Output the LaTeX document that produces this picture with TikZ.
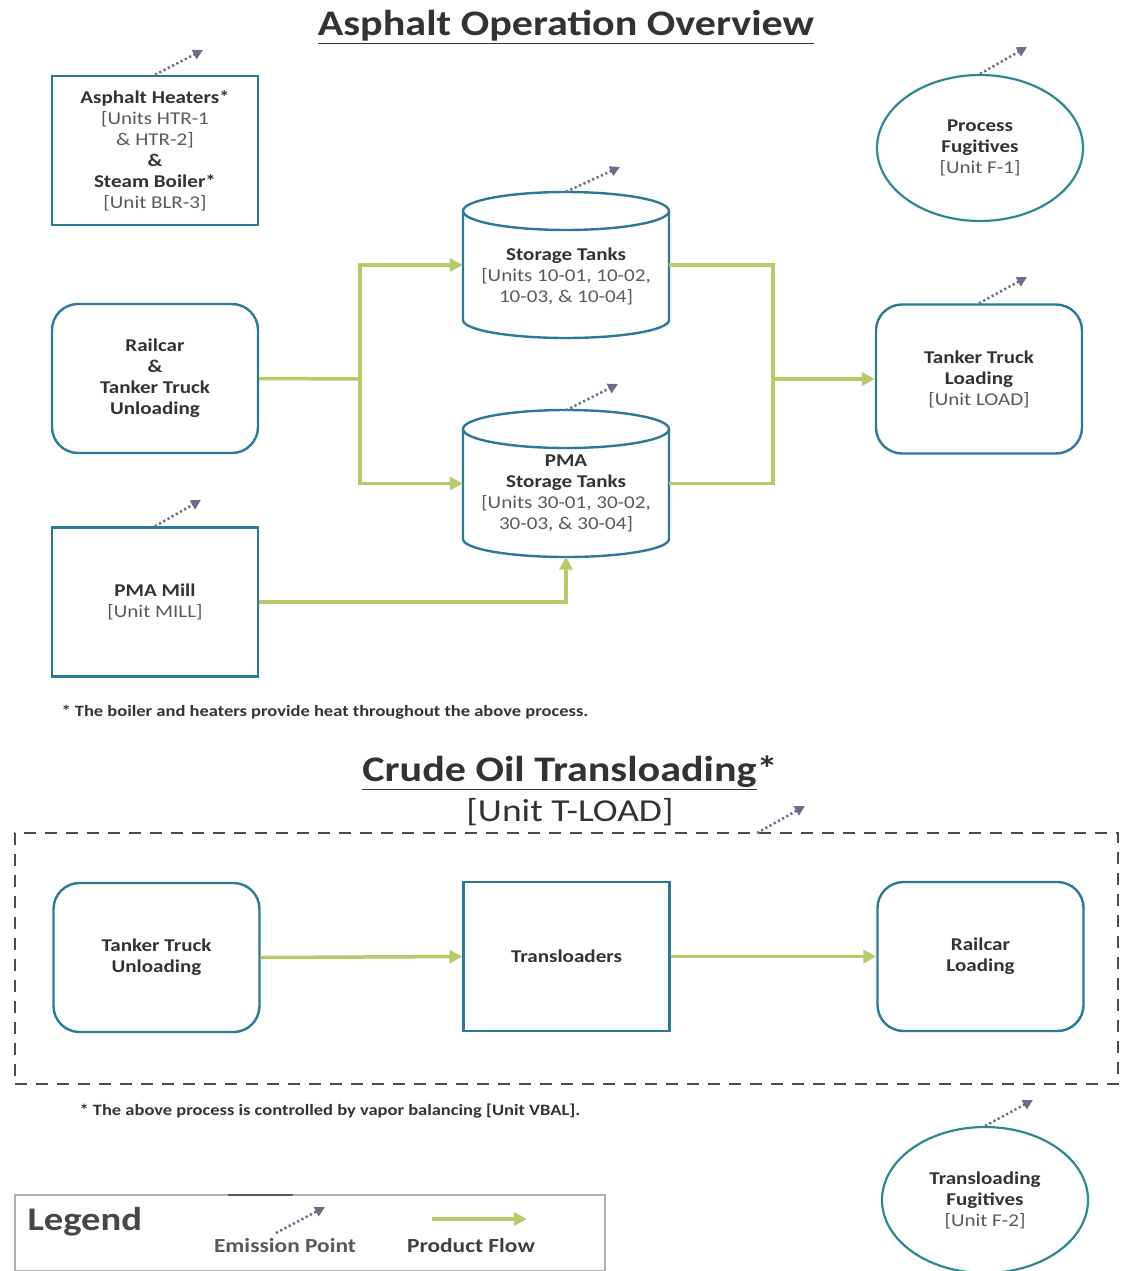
\documentclass[tikz,border=0pt]{standalone}
\usepackage{fontspec}
\setmainfont{Carlito}[FakeStretch=1.17]
\usetikzlibrary{shapes.geometric,arrows.meta}
\definecolor{bcol}{HTML}{2C7A96}
\definecolor{ecolr}{HTML}{2E8A8E}
\definecolor{gcol}{HTML}{B6CC68}
\definecolor{emcol}{HTML}{6A6E88}
\definecolor{txtc}{HTML}{333333}
\definecolor{subc}{HTML}{5A5A5A}
\begin{document}
\begin{tikzpicture}[x=1pt,y=-1pt,
  boxtxt/.style={font=\fontsize{18}{21}\selectfont, align=center, text=txtc},
  sqbox/.style={draw=bcol, line width=2.4pt, minimum width=206pt, minimum height=149pt, inner sep=0pt, boxtxt},
  rbox/.style={sqbox, rounded corners=26pt},
  ellbox/.style={ellipse, draw=ecolr, line width=2.2pt, minimum width=206pt, minimum height=146pt, inner sep=0pt, boxtxt},
  cylbody/.style={minimum width=206pt, minimum height=146pt, inner sep=0pt},
  cylline/.style={draw=bcol, line width=2.4pt},
  flow/.style={draw=gcol, line width=3.5pt},
  flowarr/.style={flow, -{Triangle[length=13pt,width=13pt]}},
  emis/.style={draw=emcol, line width=2.5pt, dash pattern=on 2.2pt off 2.6pt, -{Triangle[length=10pt,width=10pt]}},
  titletxt/.style={font=\fontsize{36}{40}\selectfont\bfseries, text=txtc},
  notetxt/.style={font=\fontsize{15.8}{18}\selectfont\bfseries, text=txtc, anchor=west},
  sub/.style={text=subc}
]
\useasboundingbox (0,0) rectangle (1120,1271);
\fill[white] (0,0) rectangle (1120,1271);

% ---------- titles ----------
\node[titletxt] (t1) at (566,27) {\underline{Asphalt Operation Overview}};
\node[titletxt] (t2) at (570,773) {\underline{Crude Oil Transloading}*};
\node[font=\fontsize{32}{36}\selectfont, text=txtc] (t3) at (570,812) {[Unit T-LOAD]};

% ---------- upper section nodes ----------
\node[sqbox] (ah) at (155,150.5) {\textbf{Asphalt Heaters*}\\ {\color{subc}[Units HTR-1}\\ {\color{subc}\& HTR-2]}\\ \textbf{\&}\\ \textbf{Steam Boiler*}\\ {\color{subc}[Unit BLR-3]}};
\node[ellbox] (pf) at (980,148) {\textbf{Process}\\ \textbf{Fugitives}\\ {\color{subc}[Unit F-1]}};
\node[rbox] (rr) at (155,378.5) {\textbf{Railcar}\\ \textbf{\&}\\ \textbf{Tanker Truck}\\ \textbf{Unloading}};
\node[sqbox] (mill) at (155,602) {\textbf{PMA Mill}\\ {\color{subc}[Unit MILL]}};
\node[rbox] (ttl) at (979,379) {\textbf{Tanker Truck}\\ \textbf{Loading}\\ {\color{subc}[Unit LOAD]}};

% storage tank cylinder
\node[cylbody, label={[boxtxt, yshift=-11pt]center:{\textbf{Storage Tanks}\\ {\color{subc}[Units 10-01, 10-02,}\\ {\color{subc}10-03, \& 10-04]}}}] (st) at (566,265) {};
\draw[cylline] (566,211) ellipse [x radius=103pt, y radius=19pt];
\draw[cylline] (463,211) -- (463,320) arc[start angle=180, end angle=360, x radius=103pt, y radius=18pt] -- (669,211);

% PMA storage tank cylinder
\node[cylbody, label={[boxtxt, yshift=-10pt]center:{\textbf{PMA}\\ \textbf{Storage Tanks}\\ {\color{subc}[Units 30-01, 30-02,}\\ {\color{subc}30-03, \& 30-04]}}}] (pma) at (566,483.5) {};
\draw[cylline] (566,429) ellipse [x radius=103pt, y radius=19pt];
\draw[cylline] (463,429) -- (463,539) arc[start angle=180, end angle=360, x radius=103pt, y radius=18pt] -- (669,429);

% ---------- upper flows ----------
\coordinate (j1) at (360,379);
\coordinate (j2) at (773,379);
\draw[flow] (rr.east) -- (j1);
\draw[flowarr] (j1) |- (st.west);
\draw[flowarr] (j1) |- (pma.west);
\draw[flow] (st.east) -| (j2);
\draw[flow] (pma.east) -| (j2);
\draw[flowarr] (j2) -- (ttl.west);
\draw[flowarr] (mill.east) -| (pma.south);

% ---------- emission points (upper) ----------
\coordinate (e1) at (203,50);
\coordinate (e2) at (1027,47);
\coordinate (e3) at (620,167);
\coordinate (e4) at (618,384);
\coordinate (e5) at (1027,277);
\coordinate (e6) at (201,500);
\draw[emis] (ah.north) -- (e1);
\draw[emis] (pf.north) -- (e2);
\draw[emis] (st.north) -- (e3);
\draw[emis] (pma.north) -- (e4);
\draw[emis] (ttl.north) -- (e5);
\draw[emis] (mill.north) -- (e6);

\node[notetxt] (n1) at (58,712) {* The boiler and heaters provide heat throughout the above process.};

% ---------- crude oil transloading ----------
\node[draw=black!70, line width=2pt, dash pattern=on 12pt off 9pt, minimum width=1103pt, minimum height=251pt, inner sep=0pt] (dbox) at (566.5,958) {};
\node[rbox] (ttu) at (156.5,957.5) {\textbf{Tanker Truck}\\ \textbf{Unloading}};
\node[sqbox] (tl) at (566.5,956.5) {\textbf{Transloaders}};
\node[rbox] (rl) at (980.5,956.5) {\textbf{Railcar}\\ \textbf{Loading}};
\draw[flowarr] (ttu.east) -- (tl.west);
\draw[flowarr] (tl.east) -- (rl.west);

\coordinate (e7s) at (757,833);
\coordinate (e7) at (805,806);
\draw[emis] (e7s) -- (e7);

\node[notetxt] (n2) at (76,1111) {* The above process is controlled by vapor balancing [Unit VBAL].};

\node[ellbox] (tf) at (985,1200) {\textbf{Transloading}\\ \textbf{Fugitives}\\ {\color{subc}[Unit F-2]}};
\coordinate (e8) at (1033,1100);
\draw[emis] (tf.north) -- (e8);

% ---------- legend ----------
\node[draw=black!30, line width=1.2pt, minimum width=590pt, minimum height=76pt, inner sep=0pt] (leg) at (310,1233) {};
\draw[black!65, line width=2.5pt] (228,1195) -- (293,1195);
\node[font=\fontsize{33}{36}\selectfont\bfseries, text=black!72, anchor=west] (legt) at (24,1222) {Legend};
\coordinate (l1s) at (276,1233);
\coordinate (l1e) at (325,1207);
\draw[emis] (l1s) -- (l1e);
\coordinate (l2s) at (432,1219);
\coordinate (l2e) at (527,1219);
\draw[flowarr] (l2s) -- (l2e);
\node[font=\fontsize{20}{22}\selectfont\bfseries, text=black!65] (lt1) at (285,1246) {Emission Point};
\node[font=\fontsize{20}{22}\selectfont\bfseries, text=black!75] (lt2) at (471,1246) {Product Flow};
\end{tikzpicture}
\end{document}
